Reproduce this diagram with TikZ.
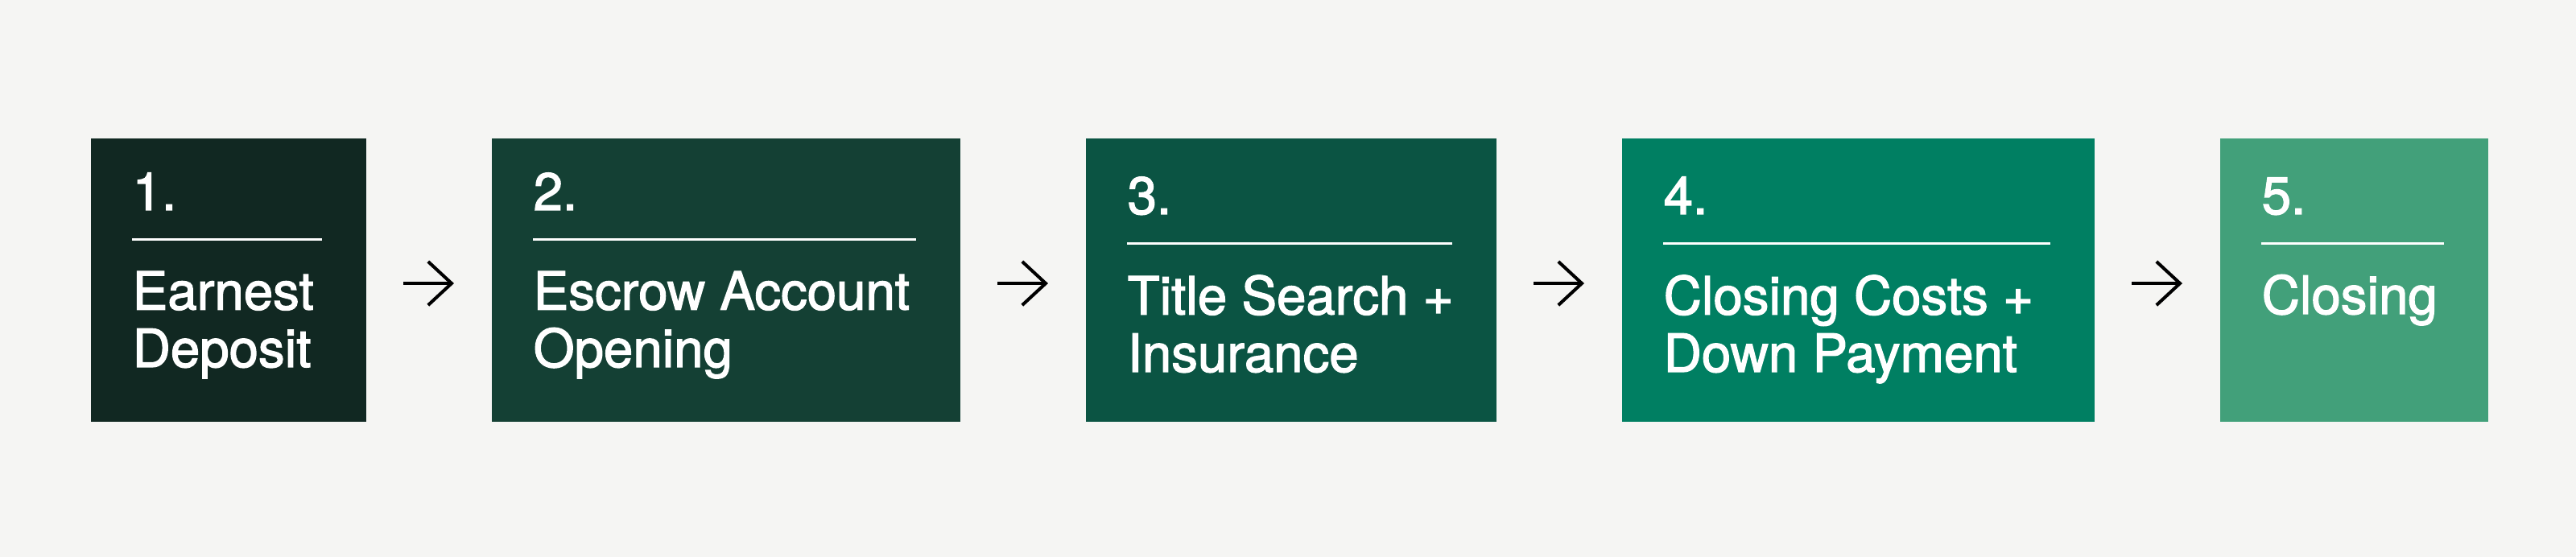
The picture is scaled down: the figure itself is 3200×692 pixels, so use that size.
\documentclass[tikz,border=0pt]{standalone}
\usepackage{fontspec}
\setmainfont{TeX Gyre Heros}
\newfontfamily\stepfont[FakeBold=2]{TeX Gyre Heros}
\usetikzlibrary{arrows.meta}
\definecolor{bg}{HTML}{F5F5F3}
\definecolor{stepA}{HTML}{112822}
\definecolor{stepB}{HTML}{144034}
\definecolor{stepC}{HTML}{0B5443}
\definecolor{stepD}{HTML}{007F62}
\definecolor{stepE}{HTML}{42A07A}
\tikzset{
  stepbox/.style={inner sep=0pt,anchor=north west,minimum height=3.525cm},
  numtext/.style={inner sep=0pt,anchor=base west,text=white,font=\stepfont\fontsize{18.6pt}{20.3pt}\selectfont},
  titletext/.style={numtext,align=left},
  rulewhite/.style={white,line width=0.65pt},
  flowarrow/.style={black,line width=1.15pt,shorten <=0.46cm,shorten >=0.46cm,-{Straight Barb[length=8.3pt,width=15.4pt]}}
}
\begin{document}
\begin{tikzpicture}[x=0.01cm,y=-0.01cm]
  \fill[bg] (0,0) rectangle (3200,692);
  % steps (\ly = baseline of the last title line)
  \foreach \i/\l/\r/\c/\ny/\ly/\num/\txt in {
      1/112/454/stepA/261/456/1./{Earnest\\Deposit},
      2/610/1192/stepB/261/456/2./{Escrow Account\\Opening},
      3/1348/1858/stepC/266/462/3./{Title Search +\\Insurance},
      4/2014/2601/stepD/266/462/4./{Closing Costs +\\Down Payment},
      5/2757/3090/stepE/266/390/5./{Closing}}
  {
    \node[stepbox,fill=\c,minimum width={(\r-\l)*0.01cm}] (b\i) at (\l,171) {};
    \node[numtext] (n\i) at (\l+52,\ny) {\num};
    \draw[rulewhite] (\l+52,\ny+36.5) -- (\r-54,\ny+36.5);
    \node[titletext] (t\i) at (\l+52,\ly) {\txt};
  }
  % arrows
  \foreach \a/\b in {1/2,2/3,3/4,4/5}
    \draw[flowarrow] ([yshift=-0.04cm]b\a.east) -- ([yshift=-0.04cm]b\b.west);
\end{tikzpicture}
\end{document}
